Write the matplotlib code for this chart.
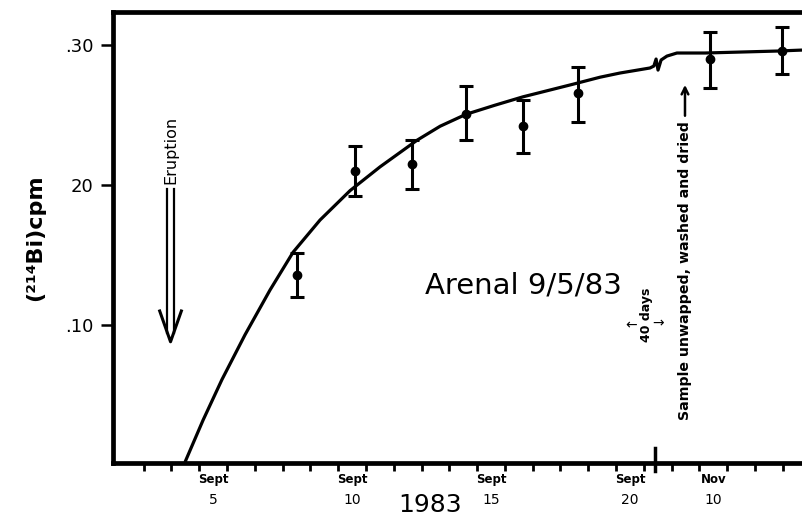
import matplotlib
matplotlib.use("Agg")
import matplotlib.pyplot as plt
from matplotlib.transforms import blended_transform_factory

# ---- data (x in plotted "day" units of the broken axis) ----
sample_day = [8.02, 10.11, 12.16, 14.10, 16.15, 18.13, 22.88, 25.47]
sample_cpm = [0.136, 0.210, 0.215, 0.251, 0.242, 0.266, 0.290, 0.296]
err_low = [0.016, 0.018, 0.018, 0.0185, 0.019, 0.021, 0.021, 0.0165]
err_high = [0.0155, 0.018, 0.017, 0.0195, 0.0185, 0.0185, 0.019, 0.017]

curve_day = [3.99, 4.64, 5.32, 6.15, 7.05, 7.88, 8.85, 9.93, 11.01, 12.34,
             13.17, 14.10, 15.14, 16.15, 17.95, 18.92, 19.64, 20.72, 20.86,
             20.94, 21.01, 21.12, 21.33, 21.69, 22.70, 25.29, 26.19]
curve_cpm = [0.002, 0.032, 0.061, 0.093, 0.125, 0.152, 0.175, 0.196, 0.213,
             0.232, 0.242, 0.2505, 0.257, 0.263, 0.272, 0.277, 0.280, 0.2836,
             0.2850, 0.2900, 0.2821, 0.2893, 0.2921, 0.2943, 0.2943, 0.2957,
             0.2964]

xlabel_pos = [5, 10, 15, 20, 23]
xlabel_month = ["Sept", "Sept", "Sept", "Sept", "Nov"]
xlabel_day = ["5", "10", "15", "20", "10"]
xminor_pos = [d + 0.5 for d in range(2, 26)]

ytick_pos = [0.10, 0.20, 0.30]
ytick_lab = [".10", "20", ".30"]

plt.rcParams["font.family"] = ["DejaVu Sans"]

fig = plt.figure(figsize=(8.02, 5.25), dpi=100)
ax = fig.add_axes([113 / 802, 62 / 525, 1 - 113 / 802, 451 / 525])
ax.set_xlim(1.40, 26.19)
ax.set_ylim(0.0014, 0.3236)

for s in ["left", "bottom", "top"]:
    ax.spines[s].set_linewidth(3.4)
ax.spines["right"].set_visible(False)

# curve
ax.plot(curve_day, curve_cpm, color="black", lw=2.3, solid_capstyle="butt",
        clip_on=False, zorder=3)

# points with error bars
ax.errorbar(sample_day, sample_cpm, yerr=[err_low, err_high], fmt="o",
            color="black", ms=6, elinewidth=2.2, capsize=5, capthick=2.2,
            zorder=4)

# axis ticks
ax.set_yticks(ytick_pos)
ax.set_yticklabels(ytick_lab, fontsize=13)
ax.tick_params(axis="y", direction="out", length=9, width=1.8, pad=5)
ax.set_xticks(xminor_pos)
ax.set_xticklabels([])
ax.tick_params(axis="x", direction="out", length=6, width=2.0)

trans = blended_transform_factory(ax.transData, ax.transAxes)
for p, m, d in zip(xlabel_pos, xlabel_month, xlabel_day):
    ax.text(p, -0.022, m, transform=trans, ha="center", va="top",
            fontsize=8.5, fontweight="bold")
    ax.text(p, -0.066, d, transform=trans, ha="center", va="top",
            fontsize=10)
ax.text(12.8, -0.093, "1983", transform=trans, ha="center", va="center",
        fontsize=18)

# axis break mark on bottom spine
ax.plot([20.9, 20.9], [-0.018, 0.033], transform=trans, color="black",
        lw=2.5, clip_on=False)

ax.set_ylabel("(²¹⁴Bi)cpm", fontsize=16, fontweight="bold", labelpad=14)

# annotations
ax.text(12.63, 0.128, "Arenal 9/5/83", fontsize=21, ha="left", va="center")

ax.text(3.47, 0.225, "Eruption", rotation=90, fontsize=11.5, ha="center",
        va="center")
ax.plot([3.36, 3.36], [0.094, 0.197], color="black", lw=1.6)
ax.plot([3.58, 3.58], [0.094, 0.197], color="black", lw=1.6)
ax.plot([3.08, 3.47, 3.86], [0.110, 0.088, 0.110], color="black", lw=2.2)

ax.text(20.58, 0.107, "40 days", rotation=90, fontsize=9, fontweight="bold",
        ha="center", va="center")
ax.text(20.05, 0.100, "←", fontsize=10, ha="center", va="center")
ax.text(21.0, 0.101, "→", fontsize=10, ha="center", va="center")

ax.text(21.98, 0.139, "Sample unwapped, washed and dried", rotation=90,
        fontsize=10.2, fontweight="bold", ha="center", va="center")
ax.annotate("", xy=(21.98, 0.2735), xytext=(21.98, 0.2475),
            arrowprops=dict(arrowstyle="->", lw=1.8, color="black",
                            mutation_scale=12))

fig.savefig("out.png", dpi=100)
